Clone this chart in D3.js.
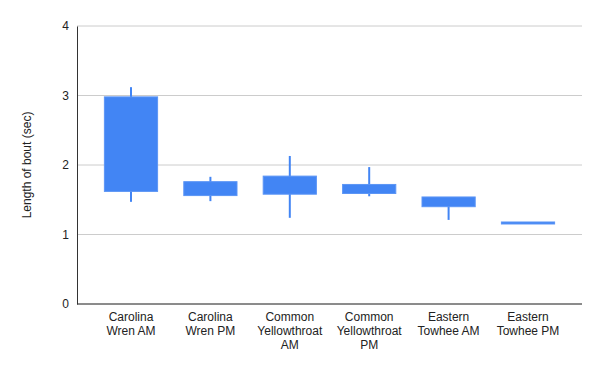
<!DOCTYPE html>
<html>
<head>
<meta charset="utf-8">
<script src="https://cdn.jsdelivr.net/npm/d3@7"></script>
<style>
  body { margin: 0; background: #fff; }
  text { font-family: Arial, "Liberation Sans", sans-serif; }
</style>
</head>
<body>
<svg id="chart" width="600" height="371"></svg>
<script>
// categories (wrapped as in the chart)
const categories = [
  ["Carolina", "Wren AM"],
  ["Carolina", "Wren PM"],
  ["Common", "Yellowthroat", "AM"],
  ["Common", "Yellowthroat", "PM"],
  ["Eastern", "Towhee AM"],
  ["Eastern", "Towhee PM"]
];
// candlestick values: low, open, close, high
const lows   = [1.47, 1.48, 1.24, 1.55, 1.21, 1.16];
const opens  = [1.62, 1.56, 1.58, 1.59, 1.40, 1.16];
const closes = [2.98, 1.76, 1.84, 1.72, 1.54, 1.18];
const highs  = [3.12, 1.83, 2.13, 1.97, 1.54, 1.18];
const yTicks = [0, 1, 2, 3, 4];

const svg = d3.select("#chart");
const margin = { top: 26, right: 18, bottom: 67, left: 77 };
const width = +svg.attr("width");
const height = +svg.attr("height");
const iw = width - margin.left - margin.right;
const ih = height - margin.top - margin.bottom;

const g = svg.append("g").attr("transform", `translate(${margin.left},${margin.top})`);

const data = categories.map((c, i) => ({
  key: i, label: c, low: lows[i], open: opens[i], close: closes[i], high: highs[i]
}));

const x = d3.scalePoint().domain(data.map(d => d.key)).range([0, iw]).padding(0.68);
const y = d3.scaleLinear().domain([0, 4]).range([ih, 0]);
const boxW = x.step() * 0.67;

// gridlines
g.append("g")
  .selectAll("line")
  .data(yTicks)
  .join("line")
    .attr("x1", 0).attr("x2", iw)
    .attr("y1", d => y(d)).attr("y2", d => y(d))
    .attr("stroke", "#cccccc");

// y axis labels
const yAxis = g.append("g")
  .call(d3.axisLeft(y).tickValues(yTicks).tickSize(0).tickPadding(8).tickFormat(d3.format("d")));
yAxis.select(".domain").attr("stroke", "#333");
yAxis.selectAll("text").attr("font-size", 12).attr("fill", "#222")
  .attr("font-family", "Arial, 'Liberation Sans', sans-serif");

// baseline
g.append("line")
  .attr("x1", 0).attr("x2", iw)
  .attr("y1", ih).attr("y2", ih)
  .attr("stroke", "#333");

// y title
svg.append("text")
  .attr("transform", `translate(31,${margin.top + ih / 2}) rotate(-90)`)
  .attr("text-anchor", "middle")
  .attr("font-size", 12)
  .attr("fill", "#222")
  .text("Length of bout (sec)");

// whiskers
g.selectAll("line.wick")
  .data(data)
  .join("line")
    .attr("class", "wick")
    .attr("x1", d => x(d.key)).attr("x2", d => x(d.key))
    .attr("y1", d => y(d.high)).attr("y2", d => y(d.low))
    .attr("stroke", "#4285f4")
    .attr("stroke-width", 2);

// boxes
g.selectAll("rect.box")
  .data(data)
  .join("rect")
    .attr("class", "box")
    .attr("x", d => x(d.key) - boxW / 2)
    .attr("width", boxW)
    .attr("y", d => y(Math.max(d.open, d.close)))
    .attr("height", d => Math.max(2, Math.abs(y(d.open) - y(d.close))))
    .attr("fill", "#4285f4")
    .attr("stroke", "#5c95f5")
    .attr("stroke-width", 1);

// x labels
const xl = g.append("g")
  .selectAll("text")
  .data(data)
  .join("text")
    .attr("x", d => x(d.key))
    .attr("y", ih + 17)
    .attr("text-anchor", "middle")
    .attr("font-size", 12)
    .attr("fill", "#222");
xl.selectAll("tspan")
  .data(d => d.label)
  .join("tspan")
    .attr("x", function () { return this.parentNode.getAttribute("x"); })
    .attr("dy", (d, i) => (i === 0 ? 0 : 14))
    .text(d => d);
</script>
</body>
</html>
